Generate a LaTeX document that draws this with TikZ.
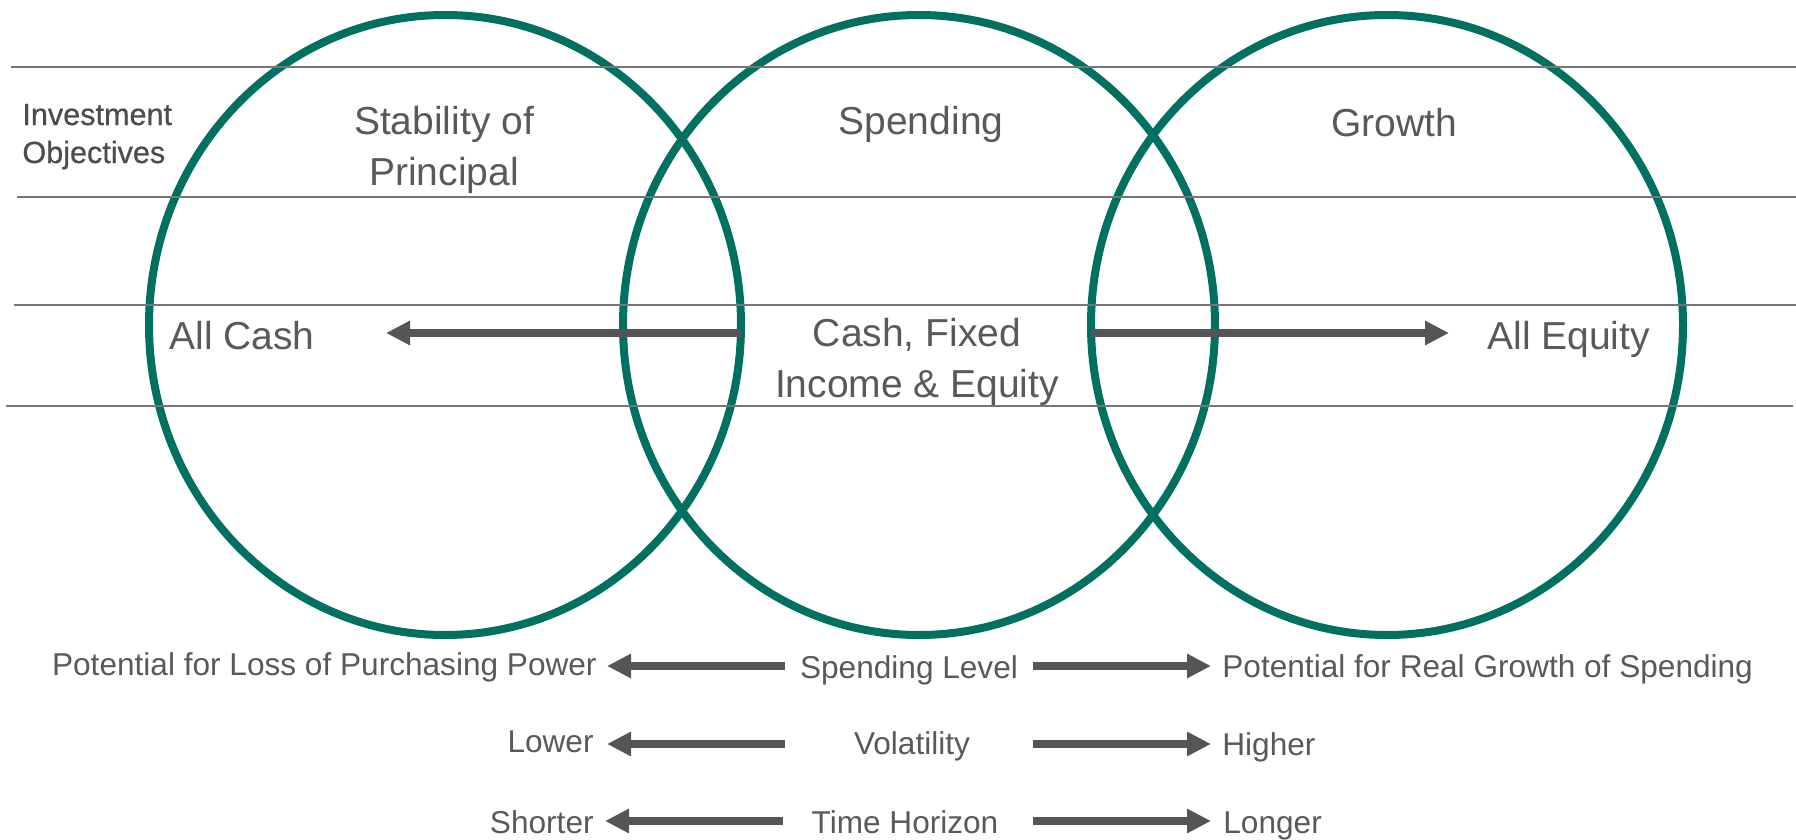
\documentclass[tikz,border=0pt]{standalone}
\usepackage{fontspec}
\setmainfont{Liberation Sans}
\newfontfamily\headfont[FakeBold=0.6]{Liberation Sans}
\usetikzlibrary{shapes.geometric,arrows.meta}

\definecolor{objteal}{RGB}{0,112,96}
\definecolor{textgray}{RGB}{89,89,89}
\definecolor{arrowgray}{RGB}{85,85,85}
\definecolor{rulegray}{RGB}{118,118,118}

\begin{document}
\begin{tikzpicture}
    [x=0.5pt, y=-0.5pt,
    every node/.style = {text=textgray, inner sep=0pt},
    ring/.style = {ellipse, draw=objteal, line width=4pt, outer sep=0pt,
        minimum width=296pt, minimum height=310pt},
    rule/.style = {draw=rulegray, line width=1pt},
    bigarrow/.style = {draw=arrowgray, line width=3.75pt,
        -{Triangle[length=12pt, width=11.5pt]}},
    objective/.style = {font=\fontsize{19.5}{25.5}\selectfont, align=center},
    trait/.style = {font=\fontsize{15.8}{19}\selectfont}
    ]
    \useasboundingbox (0,0) rectangle (1796,840);

    % the three objectives
    \node[ring] (stability) at (445,325) {};
    \node[ring] (spending) at (919,325) {};
    \node[ring] (growth) at (1387,325) {};

    % bands
    \draw[rule] (11,67) -- (1796,67);
    \draw[rule] (17,197) -- (1796,197);
    \draw[rule] (14,305) -- (1796,305);
    \draw[rule] (6,406) -- (1793,406);

    % base of a two-line node sits on its last line
    \node[anchor=base west, align=left, text=textgray!85!black,
        font=\headfont\fontsize{15.3}{19}\selectfont] (objlabel) at (22,163) {Investment\\Objectives};
    \node[objective, anchor=base] (stabtext) at (444,186) {Stability of\\Principal};
    \node[objective, anchor=base] (spendtext) at (921,135) {Spending};
    \node[objective, anchor=base] (growtext) at (1394,137) {Growth};

    % asset mix
    \node[objective, anchor=base west] (cash) at (169,350) {All Cash};
    \node[objective, anchor=base] (mixed) at (917,397) {Cash, Fixed\\Income \& Equity};
    \node[objective, anchor=base west] (equity) at (1487,350) {All Equity};
    \coordinate (cashtip) at (386,333);
    \coordinate (equitytip) at (1449,333);
    \draw[bigarrow] (stability.east |- cashtip) -- (cashtip);
    \draw[bigarrow] (growth.west |- equitytip) -- (equitytip);

    % trade-offs
    \node[trait, anchor=base east] (loss) at (597,675) {Potential for Loss of Purchasing Power};
    \node[trait, anchor=base] (level) at (909,678) {Spending Level};
    \node[trait, anchor=base west] (realgrowth) at (1222,677) {Potential for Real Growth of Spending};
    \coordinate (levelleft) at (785,666);
    \coordinate (levelright) at (1033,666);
    \coordinate (lossend) at (607,666);
    \coordinate (realend) at (1211,666);
    \draw[bigarrow] (levelleft) -- (lossend);
    \draw[bigarrow] (levelright) -- (realend);

    \node[trait, anchor=base east] (lower) at (594,752) {Lower};
    \node[trait, anchor=base] (volatility) at (912,754) {Volatility};
    \node[trait, anchor=base west] (higher) at (1222,755) {Higher};
    \coordinate (volleft) at (785,744);
    \coordinate (volright) at (1033,744);
    \coordinate (lowerend) at (607,744);
    \coordinate (higherend) at (1211,744);
    \draw[bigarrow] (volleft) -- (lowerend);
    \draw[bigarrow] (volright) -- (higherend);

    \node[trait, anchor=base east] (shorter) at (594,833) {Shorter};
    \node[trait, anchor=base] (horizon) at (905,833) {Time Horizon};
    \node[trait, anchor=base west] (longer) at (1223,833) {Longer};
    \coordinate (horleft) at (783,821);
    \coordinate (horright) at (1033,821);
    \coordinate (shorterend) at (605,821);
    \coordinate (longerend) at (1211,821);
    \draw[bigarrow] (horleft) -- (shorterend);
    \draw[bigarrow] (horright) -- (longerend);
\end{tikzpicture}
\end{document}
